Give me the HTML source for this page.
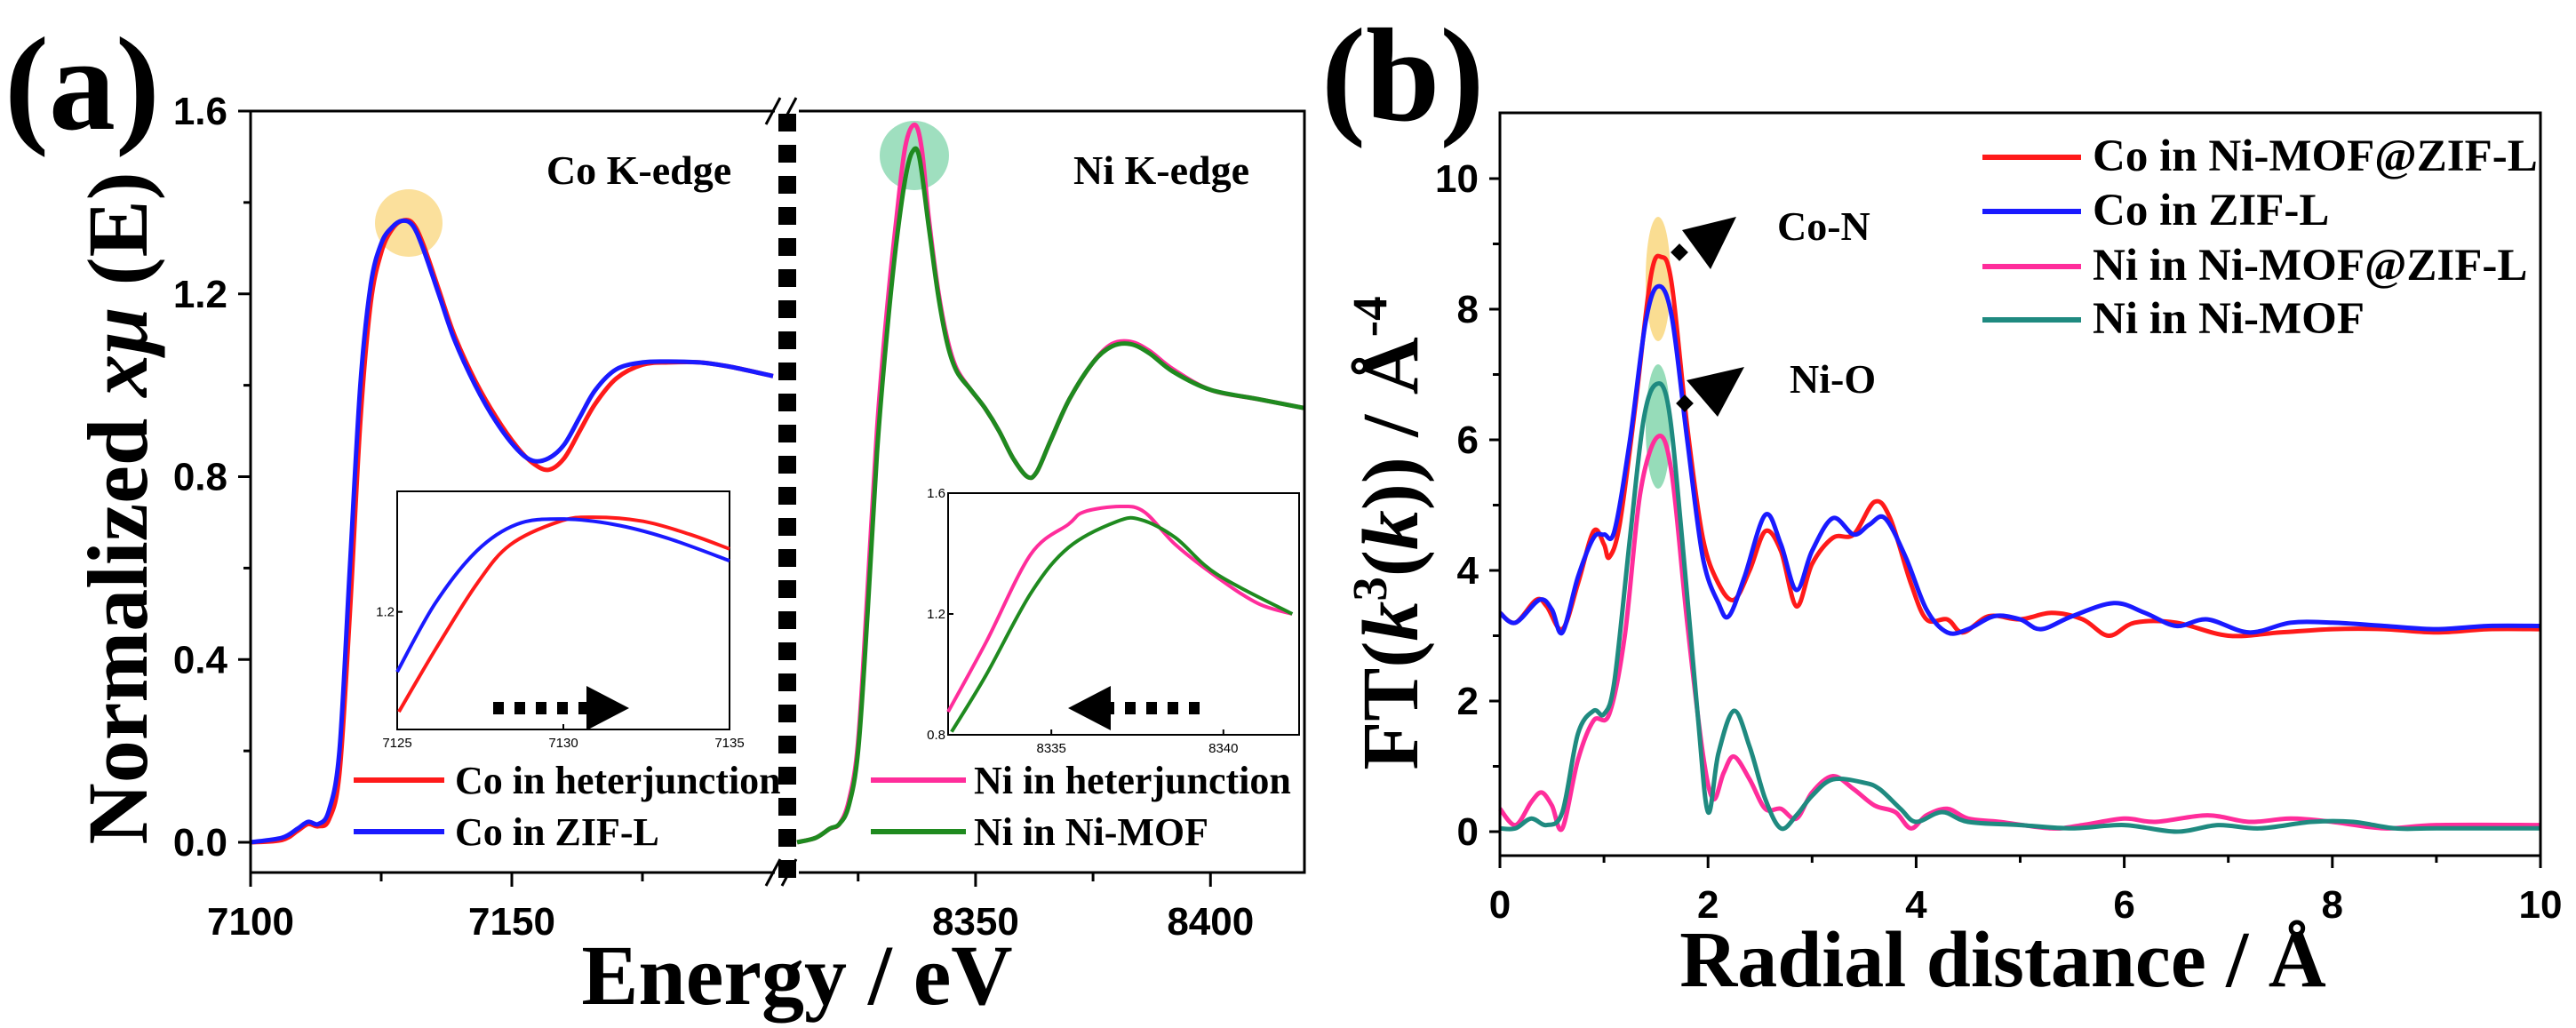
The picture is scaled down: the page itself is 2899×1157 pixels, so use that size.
<!DOCTYPE html>
<html><head><meta charset="utf-8"><style>
body{margin:0;background:#fff;}
svg{display:block;}
text{font-family:"Liberation Sans",sans-serif;}
.serif{font-family:"Liberation Serif",serif;font-weight:bold;}
.tick{font-family:"Liberation Sans",sans-serif;font-weight:bold;font-size:44px;}
</style></head><body>
<svg id="chart" width="2899" height="1157" viewBox="0 0 2899 1157" xmlns="http://www.w3.org/2000/svg">
<g id="root"></g>
</svg>
<script>
// ---------- Panel (a) data ----------
const coBlueE=[7100,7106,7109,7111,7113,7115,7117,7119,7121,7123,7125,7127,7129,7131,7133,7136,7139,7143,7147,7151,7154,7157,7160,7163,7166,7170,7175,7180,7186,7192,7200];
const coBlueMu=[0,0.01,0.03,0.045,0.04,0.07,0.2,0.6,1.0,1.22,1.31,1.345,1.36,1.35,1.3,1.2,1.1,1.0,0.92,0.86,0.835,0.84,0.87,0.93,0.99,1.035,1.05,1.052,1.05,1.04,1.02];
const coRedE=[7100,7106,7109,7111,7113,7115,7117,7119,7121,7123,7125,7127,7129,7131,7133,7136,7139,7143,7147,7151,7154,7157,7160,7163,7166,7170,7175,7180,7186,7192,7200];
const coRedMu=[0,0.005,0.025,0.04,0.035,0.05,0.15,0.5,0.92,1.18,1.29,1.34,1.36,1.355,1.31,1.21,1.11,1.01,0.93,0.865,0.83,0.815,0.84,0.9,0.96,1.015,1.045,1.05,1.05,1.04,1.02];
const niGreenE=[8312,8316,8319,8321,8323,8325,8327,8329,8331,8333,8335,8336.5,8338,8340,8342,8344,8346,8349,8352,8355,8358,8361,8363,8366,8370,8375,8379,8383,8387,8392,8400,8410,8420];
const niGreenMu=[0,0.01,0.03,0.04,0.08,0.2,0.5,0.85,1.1,1.3,1.45,1.51,1.5,1.35,1.2,1.09,1.03,0.99,0.95,0.9,0.84,0.8,0.81,0.88,0.97,1.05,1.085,1.09,1.07,1.03,0.99,0.97,0.95];
const niPinkE=[8312,8316,8319,8321,8323,8325,8327,8329,8331,8333,8335,8337,8338.5,8340,8342,8344,8346,8349,8352,8355,8358,8361,8363,8366,8370,8375,8379,8383,8387,8392,8400,8410,8420];
const niPinkMu=[0,0.01,0.03,0.04,0.09,0.22,0.55,0.9,1.15,1.35,1.52,1.57,1.52,1.37,1.21,1.1,1.035,0.99,0.95,0.9,0.84,0.8,0.81,0.88,0.97,1.05,1.09,1.095,1.075,1.035,0.99,0.97,0.95];
// insets
const inCoRedE=[7125.05,7126.15,7127.4,7128.4,7129.9,7130.9,7132.4,7133.8,7135];
const inCoRedMu=[1.03,1.136,1.248,1.314,1.354,1.361,1.354,1.332,1.307];
const inCoBlueE=[7125,7126.15,7127.4,7128.6,7129.9,7131.5,7133.1,7135];
const inCoBlueMu=[1.098,1.215,1.304,1.349,1.358,1.349,1.326,1.287];
const inNiPinkE=[8332,8333.1,8334.4,8335.5,8335.95,8337,8337.7,8338.6,8339.8,8341,8342];
const inNiPinkMu=[0.876,1.106,1.397,1.497,1.538,1.556,1.538,1.43,1.323,1.235,1.2];
const inNiGreenE=[8332.1,8333.1,8334.4,8335.5,8336.9,8337.6,8338.6,8339.8,8342];
const inNiGreenMu=[0.81,0.997,1.268,1.42,1.506,1.512,1.453,1.332,1.2];
const aYTicks=[0,0.4,0.8,1.2,1.6];
const aYTickLabels=["0.0","0.4","0.8","1.2","1.6"];
const aLeftXTicks=[7100,7150];
const aRightXTicks=[8350,8400];
// ---------- Panel (b) data ----------
const rRed=[0,0.15,0.35,0.45,0.6,0.75,0.9,1.0,1.05,1.15,1.3,1.45,1.55,1.65,1.8,1.95,2.1,2.25,2.4,2.55,2.7,2.85,3.0,3.2,3.4,3.6,3.75,3.95,4.1,4.3,4.45,4.7,5.0,5.3,5.6,5.85,6.1,6.5,7.0,7.5,8.0,8.5,9.0,9.5,10];
const vRed=[3.35,3.2,3.55,3.45,3.1,3.8,4.6,4.4,4.2,4.7,6.5,8.5,8.8,8.4,6.2,4.5,3.8,3.55,4.0,4.6,4.3,3.45,4.1,4.5,4.55,5.05,4.8,3.8,3.25,3.25,3.05,3.3,3.25,3.35,3.25,3.0,3.2,3.2,3.0,3.05,3.1,3.1,3.05,3.1,3.1];
const rBlue=[0,0.15,0.38,0.5,0.6,0.75,0.9,1.0,1.1,1.25,1.4,1.52,1.65,1.8,1.95,2.1,2.2,2.35,2.55,2.7,2.85,3.0,3.2,3.4,3.55,3.7,3.9,4.1,4.3,4.5,4.75,5.0,5.2,5.5,5.9,6.2,6.5,6.8,7.2,7.6,8.0,8.5,9.0,9.5,10];
const vBlue=[3.35,3.2,3.55,3.4,3.05,3.9,4.5,4.55,4.6,6.0,7.8,8.35,7.9,6.0,4.2,3.5,3.3,3.9,4.85,4.4,3.7,4.3,4.8,4.55,4.7,4.8,4.2,3.4,3.05,3.1,3.3,3.25,3.1,3.3,3.5,3.35,3.15,3.25,3.05,3.2,3.2,3.15,3.1,3.15,3.15];
const rPink=[0,0.15,0.3,0.4,0.5,0.6,0.75,0.9,1.05,1.2,1.35,1.52,1.65,1.8,1.95,2.05,2.15,2.25,2.4,2.55,2.7,2.85,3.0,3.2,3.4,3.6,3.8,3.95,4.1,4.3,4.5,4.8,5.3,5.6,6.0,6.3,6.8,7.2,7.6,8.0,8.5,9.0,10];
const vPink=[0.35,0.1,0.45,0.6,0.4,0.05,1.1,1.7,1.8,3.0,5.2,6.05,5.5,3.2,1.2,0.5,0.9,1.15,0.8,0.35,0.35,0.2,0.6,0.85,0.65,0.4,0.3,0.05,0.25,0.35,0.2,0.15,0.05,0.1,0.2,0.15,0.25,0.15,0.2,0.15,0.05,0.1,0.1];
const rTeal=[0,0.15,0.3,0.45,0.6,0.75,0.9,1.0,1.1,1.25,1.38,1.5,1.62,1.75,1.9,2.0,2.1,2.25,2.4,2.55,2.7,2.85,3.0,3.2,3.5,3.65,3.85,4.0,4.25,4.5,5.0,5.5,6.0,6.5,6.9,7.3,7.8,8.2,8.6,9.0,10];
const vTeal=[0.05,0.05,0.2,0.1,0.3,1.5,1.85,1.8,2.3,4.5,6.3,6.85,6.5,4.5,1.8,0.3,1.2,1.85,1.3,0.5,0.05,0.25,0.55,0.8,0.75,0.65,0.35,0.15,0.3,0.15,0.1,0.05,0.1,0.0,0.1,0.05,0.15,0.15,0.05,0.05,0.05];
const bYTicks=[0,2,4,6,8,10];
const bXTicks=[0,2,4,6,8,10];

const NS="http://www.w3.org/2000/svg";
const root=document.getElementById('root');
function mk(tag,attrs,parent,txt){const e=document.createElementNS(NS,tag);for(const k in attrs)e.setAttribute(k,attrs[k]);if(txt!==undefined)e.textContent=txt;(parent||root).appendChild(e);return e;}
function lin(d0,d1,r0,r1){return v=>r0+(v-d0)*(r1-r0)/(d1-d0);}
function smooth(xs,ys){let d='M'+xs[0].toFixed(1)+','+ys[0].toFixed(1);for(let i=0;i<xs.length-1;i++){const x0=xs[Math.max(0,i-1)],y0=ys[Math.max(0,i-1)],x1=xs[i],y1=ys[i],x2=xs[i+1],y2=ys[i+1],x3=xs[Math.min(xs.length-1,i+2)],y3=ys[Math.min(xs.length-1,i+2)];d+=' C'+(x1+(x2-x0)/6).toFixed(1)+','+(y1+(y2-y0)/6).toFixed(1)+' '+(x2-(x3-x1)/6).toFixed(1)+','+(y2-(y3-y1)/6).toFixed(1)+' '+x2.toFixed(1)+','+y2.toFixed(1);}return d;}
function series(xa,ya,sx,sy,color,w,name){const p=mk('path',{d:smooth(xa.map(sx),ya.map(sy)),fill:'none',stroke:color,'stroke-width':w,'stroke-linejoin':'round'});return p;}

// ===== Panel a =====
const aY=lin(0,1.6,948,125);
const aXL=lin(7100,7200,282,870);
const aXR=lin(8312,8420,897,1468);
const aBot=982;
let c=mk('ellipse',{cx:460,cy:251,rx:38,ry:38,fill:'#f7c64a','fill-opacity':0.55});

c=mk('ellipse',{cx:1029,cy:175,rx:39,ry:39,fill:'#3fbf7f','fill-opacity':0.5});

series(coRedE,coRedMu,aXL,aY,'#ff1a1a',5,'co-heterjunction-line');
series(coBlueE,coBlueMu,aXL,aY,'#1a1aff',5,'co-zifl-line');
series(niPinkE,niPinkMu,aXR,aY,'#ff2d9b',5,'ni-heterjunction-line');
series(niGreenE,niGreenMu,aXR,aY,'#1f8a1f',5,'ni-nimof-line');
let g=mk('g',{stroke:'#000','stroke-width':3,fill:'none'});

mk('path',{d:'M282,125 V'+aBot+' H872 M899,'+aBot+' H1468 V125 H899 M872,125 H282'},g);
mk('path',{d:'M862,140 L878,110 M880,140 L896,110 M862,'+(aBot+15)+' L878,'+(aBot-15)+' M880,'+(aBot+15)+' L896,'+(aBot-15)},g);
let dl=mk('line',{x1:886,y1:128,x2:886,y2:aBot+14,stroke:'#000','stroke-width':20,'stroke-dasharray':'20 15'});

aYTicks.forEach((v,i)=>{mk('line',{x1:282,x2:268,y1:aY(v),y2:aY(v)},g);
 const t=mk('text',{x:256,y:aY(v)+15,'text-anchor':'end',class:'tick'},root,aYTickLabels[i]);
 });
[0.2,0.6,1.0,1.4].forEach(v=>mk('line',{x1:282,x2:274,y1:aY(v),y2:aY(v)},g));
[7100,7125,7150,7175].forEach(v=>mk('line',{x1:aXL(v),x2:aXL(v),y1:aBot,y2:aBot+(v%50?10:16)},g));
[8325,8350,8375,8400].forEach(v=>mk('line',{x1:aXR(v),x2:aXR(v),y1:aBot,y2:aBot+(v%50?10:16)},g));
aLeftXTicks.forEach(v=>{const t=mk('text',{x:aXL(v),y:1052,'text-anchor':'middle',class:'tick'},root,String(v));});
aRightXTicks.forEach(v=>{const t=mk('text',{x:aXR(v),y:1052,'text-anchor':'middle',class:'tick'},root,String(v));});
let t;
t=mk('text',{x:719,y:207,'text-anchor':'middle',class:'serif','font-size':46},root,'Co K-edge');
t=mk('text',{x:1307,y:207,'text-anchor':'middle',class:'serif','font-size':46},root,'Ni K-edge');
function inset(x0,x1,y0,y1,dx0,dx1,dy0,dy1,xt,yt,yl,name){
 const ig=mk('g',{});
 mk('rect',{x:x0,y:y0,width:x1-x0,height:y1-y0,fill:'#fff',stroke:'#000','stroke-width':2},ig);
 const sx=lin(dx0,dx1,x0,x1),sy=lin(dy0,dy1,y1,y0);
 xt.forEach(v=>{mk('line',{x1:sx(v),x2:sx(v),y1:y1,y2:y1-6,stroke:'#000','stroke-width':2},ig);mk('text',{x:sx(v),y:y1+20,'text-anchor':'middle','font-size':15},ig,String(v));});
 yt.forEach((v,i)=>{mk('line',{x1:x0,x2:x0+6,y1:sy(v),y2:sy(v),stroke:'#000','stroke-width':2},ig);mk('text',{x:x0-3,y:sy(v)+5,'text-anchor':'end','font-size':15},ig,yl[i]);});
 return [sx,sy,ig];}
let [csx,csy]=inset(447,821,553,821,7125,7135,1.0,1.405,[7125,7130,7135],[1.2],['1.2'],'co-inset');
series(inCoRedE,inCoRedMu,csx,csy,'#ff1a1a',4,'co-inset-red-line');
series(inCoBlueE,inCoBlueMu,csx,csy,'#1a1aff',4,'co-inset-blue-line');
let [nsx,nsy]=inset(1067,1462,555,827,8332,8342.2,0.8,1.6,[8335,8340],[0.8,1.2,1.6],['0.8','1.2','1.6'],'ni-inset');
series(inNiPinkE,inNiPinkMu,nsx,nsy,'#ff2d9b',4,'ni-inset-pink-line');
series(inNiGreenE,inNiGreenMu,nsx,nsy,'#1f8a1f',4,'ni-inset-green-line');
let ar=mk('g',{});
mk('line',{x1:555,x2:665,y1:797,y2:797,stroke:'#000','stroke-width':14,'stroke-dasharray':'12 12'},ar);
mk('polygon',{points:'660,772 708,797 660,822',fill:'#000'},ar);
ar=mk('g',{});
mk('line',{x1:1350,x2:1245,y1:797,y2:797,stroke:'#000','stroke-width':14,'stroke-dasharray':'12 12'},ar);
mk('polygon',{points:'1250,772 1202,797 1250,822',fill:'#000'},ar);
function legItem(x1,x2,y,color,label,fs,tx,name){const lg=mk('g',{});
 mk('line',{x1:x1,x2:x2,y1:y,y2:y,stroke:color,'stroke-width':6},lg);mk('text',{x:tx,y:y+15,class:'serif','font-size':fs},lg,label);}
legItem(398,500,878,'#ff1a1a','Co in heterjunction',44,512,'legend-co-heterjunction');
legItem(398,500,936,'#1a1aff','Co in ZIF-L',44,512,'legend-co-zifl');
legItem(980,1087,878,'#ff2d9b','Ni in heterjunction',44,1096,'legend-ni-heterjunction');
legItem(980,1087,936,'#1f8a1f','Ni in Ni-MOF',44,1096,'legend-ni-nimof');
t=mk('text',{x:0,y:0,transform:'translate(165,572) rotate(-90)','text-anchor':'middle',class:'serif','font-size':96},root);
t.innerHTML='Normalized <tspan font-style="italic">xμ</tspan> (E)';
t=mk('text',{x:897,y:1130,'text-anchor':'middle',class:'serif','font-size':96},root,'Energy / eV');
t=mk('text',{x:5,y:145,class:'serif','font-size':150},root,'(a)');

// ===== Panel b =====
const bX=lin(0,10,1688,2859);
const bY=lin(0,10,936,201);
c=mk('ellipse',{cx:bX(1.52),cy:314,rx:14,ry:70,fill:'#f7c64a','fill-opacity':0.6});
c=mk('ellipse',{cx:bX(1.52),cy:480,rx:14,ry:70,fill:'#3fbf7f','fill-opacity':0.55});
series(rRed,vRed,bX,bY,'#ff1a1a',5,'co-nimof-zifl-line');
series(rBlue,vBlue,bX,bY,'#1a1aff',5,'co-zifl-ft-line');
series(rPink,vPink,bX,bY,'#ff2d9b',5,'ni-nimof-zifl-line');
series(rTeal,vTeal,bX,bY,'#1f8a80',5,'ni-nimof-ft-line');
g=mk('g',{stroke:'#000','stroke-width':3,fill:'none'});
mk('rect',{x:1688,y:127,width:1171,height:836},g);
bYTicks.forEach(v=>{mk('line',{x1:1688,x2:1676,y1:bY(v),y2:bY(v)},g);
 const tt=mk('text',{x:1664,y:bY(v)+15,'text-anchor':'end',class:'tick'},root,String(v));});
[1,3,5,7,9].forEach(v=>mk('line',{x1:1688,x2:1680,y1:bY(v),y2:bY(v)},g));
for(let v=0;v<=10;v++)mk('line',{x1:bX(v),x2:bX(v),y1:963,y2:v%2?971:977},g);
bXTicks.forEach(v=>{const tt=mk('text',{x:bX(v),y:1033,'text-anchor':'middle',class:'tick'},root,String(v));});
ar=mk('g',{});
mk('polygon',{points:'1893,259 1954,244 1925,303',fill:'#000'},ar);
mk('rect',{x:1883,y:277,width:14,height:14,transform:'rotate(45 1890 284)',fill:'#000'},ar);
ar=mk('g',{});
mk('polygon',{points:'1898,428 1963,413 1933,469',fill:'#000'},ar);
mk('rect',{x:1889,y:447,width:14,height:14,transform:'rotate(45 1896 454)',fill:'#000'},ar);
t=mk('text',{x:2000,y:270,class:'serif','font-size':46},root,'Co-N');
t=mk('text',{x:2014,y:442,class:'serif','font-size':46},root,'Ni-O');
legItem(2231,2342,177,'#ff1a1a','Co in Ni-MOF@ZIF-L',51,2355,'legend-co-nimof-zifl');
legItem(2231,2342,238,'#1a1aff','Co in ZIF-L',51,2355,'legend-co-zifl-b');
legItem(2231,2342,300,'#ff2d9b','Ni in Ni-MOF@ZIF-L',51,2355,'legend-ni-nimof-zifl');
legItem(2231,2342,360,'#1f8a80','Ni in Ni-MOF',51,2355,'legend-ni-nimof-b');
t=mk('text',{x:0,y:0,transform:'translate(1595,600) rotate(-90)','text-anchor':'middle',class:'serif','font-size':90},root);
t.innerHTML='FT(<tspan font-style="italic">k</tspan><tspan font-size="55" dy="-35">3</tspan><tspan dy="35">(</tspan><tspan font-style="italic">k</tspan>)) / Å<tspan font-size="55" dy="-35">-4</tspan>';

t=mk('text',{x:2254,y:1110,'text-anchor':'middle',class:'serif','font-size':90},root,'Radial distance / Å');
t=mk('text',{x:1487,y:135,class:'serif','font-size':150},root,'(b)');
</script>
</body></html>
